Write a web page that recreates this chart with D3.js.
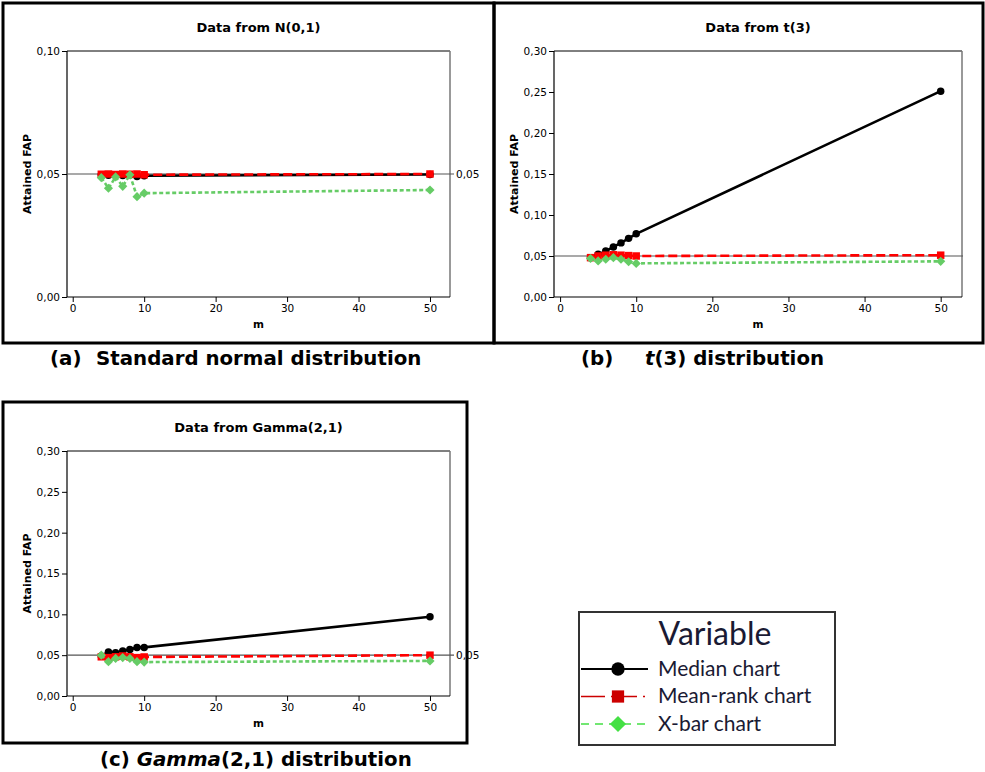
<!DOCTYPE html>
<html>
<head>
<meta charset="utf-8">
<script src="https://cdn.jsdelivr.net/npm/d3@7"></script>
<style>
  html, body { margin: 0; padding: 0; background: #fff; }
  svg { display: block; }
</style>
</head>
<body>
<svg id="chart" width="985" height="772"></svg>
<script>
// ---------------- data ----------------
const mValues = [4, 5, 6, 7, 8, 9, 10, 50];

const normMedian   = [0.0497, 0.0495, 0.0496, 0.0494, 0.0497, 0.0490, 0.0493, 0.0498];
const normMeanRank = [0.0499, 0.0500, 0.0498, 0.0500, 0.0499, 0.0500, 0.0497, 0.0500];
const normXbar     = [0.0485, 0.0442, 0.0488, 0.0450, 0.0497, 0.0408, 0.0422, 0.0435];

const t3Median     = [0.0480, 0.0520, 0.0560, 0.0610, 0.0660, 0.0715, 0.0770, 0.2510];
const t3MeanRank   = [0.0480, 0.0500, 0.0510, 0.0515, 0.0510, 0.0505, 0.0500, 0.0510];
const t3Xbar       = [0.0470, 0.0440, 0.0460, 0.0480, 0.0460, 0.0430, 0.0410, 0.0435];

const gamMedian    = [0.0490, 0.0540, 0.0530, 0.0550, 0.0570, 0.0595, 0.0595, 0.0970];
const gamMeanRank  = [0.0480, 0.0470, 0.0480, 0.0490, 0.0480, 0.0470, 0.0478, 0.0500];
const gamXbar      = [0.0500, 0.0420, 0.0460, 0.0470, 0.0460, 0.0420, 0.0415, 0.0430];

const xTicks   = [0, 10, 20, 30, 40, 50];
const yTicksA  = [0.00, 0.05, 0.10];
const yTicksBC = [0.00, 0.05, 0.10, 0.15, 0.20, 0.25, 0.30];

const seriesNames = ["Median chart", "Mean-rank chart", "X-bar chart"];
const panelTitles = ["Data from N(0,1)", "Data from t(3)", "Data from Gamma(2,1)"];
const refValue = 0.05;

// ---------------- drawing ----------------
const svg = d3.select("#chart");
const fmt = v => d3.format(".2f")(v).replace(".", ",");
const tickFont = "Verdana, 'DejaVu Sans', sans-serif";

// rotated-square diamond symbol
const diamondSq = {
  draw(ctx, size) {
    const r = Math.sqrt(size / 2);
    ctx.moveTo(0, -r); ctx.lineTo(r, 0); ctx.lineTo(0, r); ctx.lineTo(-r, 0); ctx.closePath();
  }
};

const styles = [
  { color: "#000000", width: 2.6, dash: null,    shape: d3.symbolCircle, size: 44 },
  { color: "#ff0000", width: 2.6, dash: "9,4",   shape: d3.symbolSquare, size: 56 },
  { color: "#66cc66", width: 2.6, dash: "4,2.5", shape: diamondSq,       size: 42 }
];

function panel(cfg) {
  svg.append("rect")
    .attr("x", cfg.box[0]).attr("y", cfg.box[1])
    .attr("width", cfg.box[2] - cfg.box[0]).attr("height", cfg.box[3] - cfg.box[1])
    .attr("fill", "none").attr("stroke", "#000").attr("stroke-width", 3);

  const [L, T, R, B] = cfg.plot;
  const x = d3.scaleLinear().domain([-0.8, 52.8]).range([L, R]);
  const y = d3.scaleLinear().domain([0, cfg.yMax]).range([B, T]);
  const g = svg.append("g");

  g.append("text").attr("x", (L + R) / 2).attr("y", T - 19)
    .attr("text-anchor", "middle").attr("font-family", tickFont)
    .attr("font-weight", "bold").attr("font-size", 13).text(cfg.title);

  g.append("line").attr("x1", L).attr("x2", R).attr("y1", T).attr("y2", T).attr("stroke", "#000").attr("stroke-width", 1);
  g.append("line").attr("x1", R).attr("x2", R).attr("y1", T).attr("y2", B).attr("stroke", "#777").attr("stroke-width", 1.5);

  const yAxis = d3.axisLeft(y).tickValues(cfg.yTicks).tickFormat(fmt).tickSize(5).tickPadding(2);
  const ya = g.append("g").attr("transform", `translate(${L},0)`).call(yAxis);
  const xAxis = d3.axisBottom(x).tickValues(xTicks).tickFormat(d3.format("d")).tickSize(5).tickPadding(3);
  const xa = g.append("g").attr("transform", `translate(0,${B})`).call(xAxis);
  [ya, xa].forEach(a => {
    a.select(".domain").attr("stroke", "#000").attr("stroke-width", 1.2);
    a.selectAll(".tick line").attr("stroke", "#000");
    a.selectAll("text").attr("font-family", tickFont).attr("font-size", 10.5).attr("fill", "#000");
  });
  xa.select(".domain").attr("d", `M${L},0H${R}`);
  ya.select(".domain").attr("d", `M0,${T}V${B}`);

  g.append("text").attr("x", (L + R) / 2).attr("y", B + 31)
    .attr("text-anchor", "middle").attr("font-family", tickFont)
    .attr("font-weight", "bold").attr("font-size", 10.5).text("m");
  g.append("text")
    .attr("transform", `translate(${L - 36},${(T + B) / 2}) rotate(-90)`)
    .attr("text-anchor", "middle").attr("font-family", tickFont)
    .attr("font-weight", "bold").attr("font-size", 11).text("Attained FAP");

  g.append("line").attr("x1", L).attr("x2", R + (cfg.refLabel ? 4 : 1))
    .attr("y1", y(refValue)).attr("y2", y(refValue))
    .attr("stroke", "#555").attr("stroke-width", 1.2);
  if (cfg.refLabel) {
    g.append("text").attr("x", R + 6).attr("y", y(refValue) + 3.5)
      .attr("font-family", tickFont).attr("font-size", 10.5).text(fmt(refValue));
  }

  const line = d3.line().x(d => x(d[0])).y(d => y(d[1]));
  cfg.series.forEach((vals, i) => {
    const st = styles[i];
    const pts = mValues.map((m, k) => [m, vals[k]]);
    g.append("path").datum(pts).attr("d", line)
      .attr("fill", "none").attr("stroke", st.color).attr("stroke-width", st.width)
      .attr("stroke-dasharray", st.dash);
    g.selectAll(null).data(pts).join("path")
      .attr("transform", d => `translate(${x(d[0])},${y(d[1])})`)
      .attr("d", d3.symbol().type(st.shape).size(st.size))
      .attr("fill", st.color);
  });

  const cap = svg.append("text").attr("y", cfg.caption.y)
    .attr("font-family", tickFont)
    .attr("font-weight", "bold").attr("font-size", 19.8).attr("fill", "#000")
    .attr("xml:space", "preserve");
  cfg.caption.parts.forEach(p => {
    const ts = cap.append("tspan").attr("font-style", p.italic ? "italic" : "normal").text(p.t);
    if (p.x !== undefined) ts.attr("x", p.x);
  });
}

panel({
  box: [3, 3, 494, 343], plot: [67, 51, 450, 297], yMax: 0.10, yTicks: yTicksA,
  title: panelTitles[0], refLabel: true,
  series: [normMedian, normMeanRank, normXbar],
  caption: { y: 365, parts: [{ t: "(a)", x: 50 }, { t: "Standard normal distribution", x: 96 }] }
});
panel({
  box: [494, 3, 983, 343], plot: [554, 51, 962, 297], yMax: 0.30, yTicks: yTicksBC,
  title: panelTitles[1], refLabel: false,
  series: [t3Median, t3MeanRank, t3Xbar],
  caption: { y: 365, parts: [{ t: "(b)", x: 581 }, { t: "t", italic: true, x: 645 }, { t: "(3) distribution" }] }
});
panel({
  box: [3, 402, 467, 743], plot: [67, 451, 450, 696], yMax: 0.30, yTicks: yTicksBC,
  title: panelTitles[2], refLabel: true,
  series: [gamMedian, gamMeanRank, gamXbar],
  caption: { y: 766, parts: [{ t: "(c) ", x: 100 }, { t: "Gamma", italic: true }, { t: "(2,1) distribution" }] }
});

// ---------------- legend ----------------
const lg = svg.append("g");
lg.append("rect").attr("x", 579).attr("y", 612).attr("width", 256).attr("height", 133)
  .attr("fill", "#fff").attr("stroke", "#333").attr("stroke-width", 2);
const legFont = "Lato, 'Open Sans', sans-serif";
lg.append("text").attr("x", 715).attr("y", 645).attr("text-anchor", "middle")
  .attr("font-family", legFont).attr("font-size", 32).attr("fill", "#1a1a33").text("Variable");
const legStyles = [
  { color: "#000000", dash: null, shape: d3.symbolCircle, size: 140, width: 2 },
  { color: "#cc0000", dash: "24,6,26,6,2,6", shape: d3.symbolSquare, size: 150, width: 1.5 },
  { color: "#44e044", dash: "8,6", shape: diamondSq, size: 130, width: 1.5 }
];
seriesNames.forEach((name, i) => {
  const yy = 669 + i * 27.5;
  const st = legStyles[i];
  lg.append("line").attr("x1", 581).attr("x2", 648).attr("y1", yy).attr("y2", yy)
    .attr("stroke", st.color).attr("stroke-width", st.width).attr("stroke-dasharray", st.dash);
  lg.append("path").attr("transform", `translate(618,${yy})`)
    .attr("d", d3.symbol().type(st.shape).size(st.size)).attr("fill", st.color);
  lg.append("text").attr("x", 658).attr("y", yy + 6.5)
    .attr("font-family", legFont).attr("font-size", 21).attr("fill", "#1a1a33").text(name);
});
</script>
</body>
</html>
